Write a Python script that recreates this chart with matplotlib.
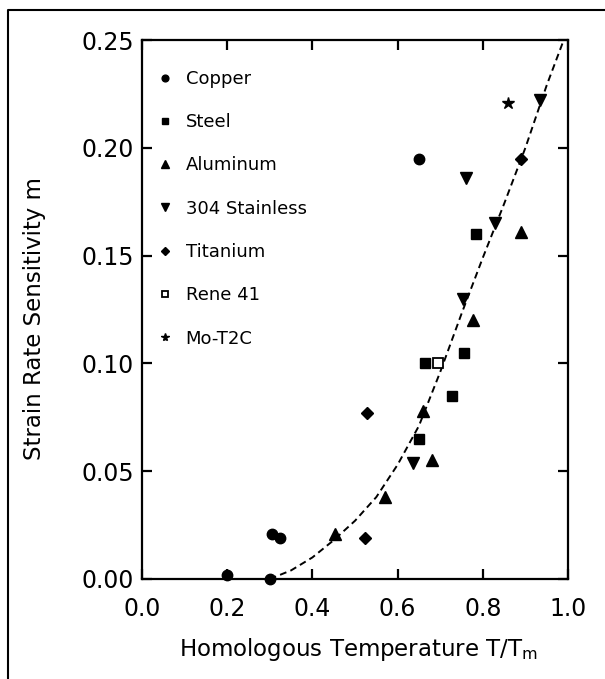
import matplotlib
matplotlib.use("Agg")
import matplotlib.pyplot as plt
from matplotlib.lines import Line2D

plt.rcParams["font.family"] = ["DejaVu Sans"]
plt.rcParams["mathtext.fontset"] = "dejavusans"

# homologous temperature T/Tm and strain rate sensitivity m per material
copper_t = [0.20, 0.30, 0.305, 0.325, 0.65]
copper_m = [0.002, 0.000, 0.021, 0.019, 0.195]

steel_t = [0.65, 0.665, 0.727, 0.755, 0.785]
steel_m = [0.065, 0.100, 0.085, 0.105, 0.160]

aluminum_t = [0.453, 0.57, 0.66, 0.681, 0.777, 0.89]
aluminum_m = [0.021, 0.038, 0.078, 0.055, 0.120, 0.161]

stainless_t = [0.636, 0.753, 0.76, 0.829, 0.934]
stainless_m = [0.054, 0.130, 0.186, 0.165, 0.222]

titanium_t = [0.528, 0.523, 0.89]
titanium_m = [0.077, 0.019, 0.195]

rene_t = [0.695]
rene_m = [0.100]

mot2c_t = [0.858]
mot2c_m = [0.221]

# trend curve through the data
curve_t = [0.30, 0.35, 0.40, 0.45, 0.50, 0.55, 0.60, 0.65, 0.70,
           0.75, 0.80, 0.85, 0.90, 0.95, 0.99]
curve_m = [0.000, 0.004, 0.010, 0.018, 0.027, 0.038, 0.053, 0.071, 0.096,
           0.123, 0.149, 0.174, 0.200, 0.229, 0.250]

W, H = 605, 679
fig = plt.figure(figsize=(W / 100, H / 100), dpi=100)
# axes box in pixels: left 142, right 568, top 40, bottom 579
ax = fig.add_axes([142 / W, 1 - 579 / H, 426 / W, 539 / H])

series = [
    (copper_t, copper_m, "o", 7.5, "Copper"),
    (steel_t, steel_m, "s", 7.5, "Steel"),
    (aluminum_t, aluminum_m, "^", 8, "Aluminum"),
    (stainless_t, stainless_m, "v", 8, "304 Stainless"),
    (titanium_t, titanium_m, "D", 6.5, "Titanium"),
]
for t, m, mk, ms, name in series:
    ax.plot(t, m, linestyle="none", marker=mk, markersize=ms,
            color="black", label=name, clip_on=False, zorder=3)
ax.plot(rene_t, rene_m, linestyle="none", marker="s", markersize=7,
        markerfacecolor="white", markeredgecolor="black", markeredgewidth=1.3,
        label="Rene 41", zorder=3)
ax.plot(mot2c_t, mot2c_m, linestyle="none", marker="*", markersize=9,
        color="black", label="Mo-T2C", zorder=3)

ax.plot(curve_t, curve_m, color="black", linewidth=1.4,
        linestyle=(0, (3.5, 2.2)), zorder=2)

ax.set_xlim(0.0, 1.0)
ax.set_ylim(0.0, 0.25)
ax.set_xticks([0.0, 0.2, 0.4, 0.6, 0.8, 1.0])
ax.set_xticklabels(["0.0", "0.2", "0.4", "0.6", "0.8", "1.0"])
ax.set_yticks([0.0, 0.05, 0.10, 0.15, 0.20, 0.25])
ax.set_yticklabels(["0.00", "0.05", "0.10", "0.15", "0.20", "0.25"])
ax.tick_params(direction="in", length=7, width=1.6, top=True, right=True,
               labelsize=17)
ax.tick_params(axis="x", pad=13)
ax.tick_params(axis="y", pad=6)
for sp in ax.spines.values():
    sp.set_linewidth(1.6)

ax.set_ylabel("Strain Rate Sensitivity m", fontsize=16.5)
ax.yaxis.set_label_coords(-0.225, 0.484)
ax.set_xlabel(r"Homologous Temperature T/T$_{\mathrm{m}}$", fontsize=16.5)
ax.xaxis.set_label_coords(0.509, -0.105)

ax.legend(loc="upper left", frameon=False, fontsize=13, markerscale=0.65,
          handlelength=0.7, handletextpad=0.8, labelspacing=1.4,
          borderaxespad=0.0, bbox_to_anchor=(0.022, 0.958))

# page frame of the scanned figure (left and top edges fall inside)
frame = Line2D([8 / W, 8 / W, 1.0], [0.0, 1 - 10 / H, 1 - 10 / H],
               transform=fig.transFigure, color="black", linewidth=1.5)
fig.lines.append(frame)

fig.savefig("out.png", dpi=100)
